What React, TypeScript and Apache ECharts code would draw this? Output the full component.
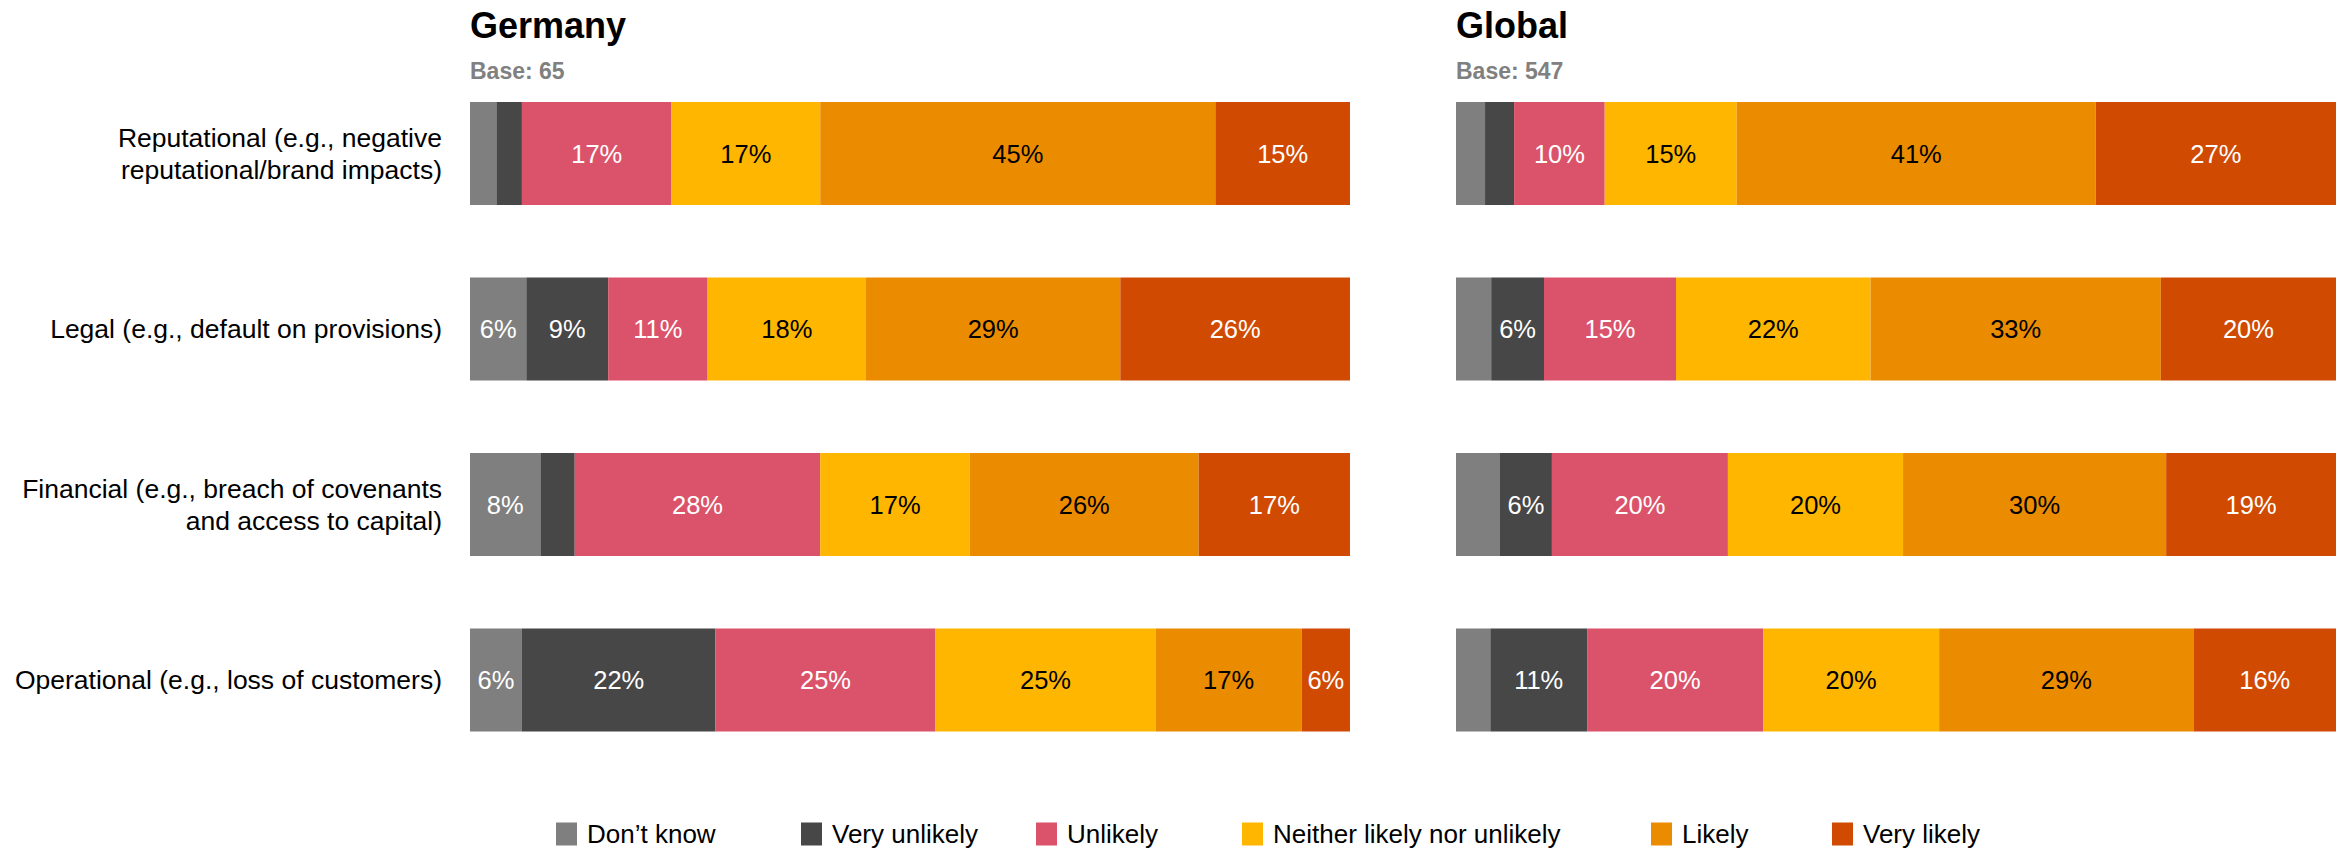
import React, { useEffect, useRef } from "react";
import * as echarts from "echarts";

const categories = [
  "Reputational (e.g., negative\nreputational/brand impacts)",
  "Legal (e.g., default on provisions)",
  "Financial (e.g., breach of covenants\nand access to capital)",
  "Operational (e.g., loss of customers)",
];

const responses = [
  "Don\u2019t know",
  "Very unlikely",
  "Unlikely",
  "Neither likely nor unlikely",
  "Likely",
  "Very likely",
];

const colors = ["#7f7f7f", "#474747", "#db536a", "#ffb600", "#eb8c00", "#d04a02"];
const labelColors = ["#ffffff", "#ffffff", "#ffffff", "#000000", "#000000", "#ffffff"];

// Germany (Base: 65)
const deDontKnow = [3.0, 6.4, 8.0, 5.9];
const deVeryUnlikely = [2.9, 9.3, 3.9, 22.0];
const deUnlikely = [17.0, 11.3, 27.9, 25.0];
const deNeither = [16.9, 18.0, 17.0, 25.0];
const deLikely = [44.9, 28.9, 26.0, 16.6];
const deVeryLikely = [15.3, 26.1, 17.2, 5.5];

// Global (Base: 547)
const glDontKnow = [3.3, 4.0, 5.0, 3.9];
const glVeryUnlikely = [3.3, 6.0, 5.9, 11.0];
const glUnlikely = [10.3, 15.0, 20.0, 20.0];
const glNeither = [15.0, 22.1, 19.9, 20.0];
const glLikely = [40.8, 33.0, 29.9, 28.9];
const glVeryLikely = [27.3, 19.9, 19.3, 16.2];

const panels = [
  { title: "Germany", base: "Base: 65", data: [deDontKnow, deVeryUnlikely, deUnlikely, deNeither, deLikely, deVeryLikely] },
  { title: "Global", base: "Base: 547", data: [glDontKnow, glVeryUnlikely, glUnlikely, glNeither, glLikely, glVeryLikely] },
];

const legendLefts = [556, 801, 1036, 1242, 1651, 1832];

const FONT = "'Liberation Sans', Arial, Helvetica, sans-serif";

export default function App() {
  const ref = useRef<HTMLDivElement>(null);

  useEffect(() => {
    if (!ref.current) return;
    const chart = echarts.init(ref.current, undefined, { renderer: "svg" });

    const gridLefts = [470, 1456];
    const grids = gridLefts.map((left) => ({
      left,
      width: 880,
      top: 65.75,
      height: 702,
      containLabel: false,
    }));

    const xAxes = gridLefts.map((_, i) => ({
      type: "value",
      gridIndex: i,
      min: 0,
      max: 100,
      show: false,
    }));

    const yAxes = gridLefts.map((_, i) => ({
      type: "category",
      gridIndex: i,
      data: categories,
      inverse: true,
      axisLine: { show: false },
      axisTick: { show: false },
      splitLine: { show: false },
      axisLabel: {
        show: i === 0,
        color: "#000",
        fontSize: 26.5,
        lineHeight: 32,
        fontFamily: FONT,
        align: "right",
        margin: 28,
      },
    }));

    const series: any[] = [];
    panels.forEach((p, pi) => {
      p.data.forEach((vals, si) => {
        series.push({
          type: "bar",
          name: responses[si],
          xAxisIndex: pi,
          yAxisIndex: pi,
          stack: "panel" + pi,
          barWidth: 103,
          data: vals,
          itemStyle: { color: colors[si] },
          label: {
            show: true,
            position: "inside",
            color: labelColors[si],
            fontSize: 25.5,
            fontFamily: FONT,
            formatter: (d: any) => (d.value >= 5.5 ? Math.round(d.value) + "%" : ""),
          },
          emphasis: { disabled: true },
        });
      });
    });

    const legends = responses.map((name, i) => ({
      data: [name],
      left: legendLefts[i],
      top: 821,
      itemWidth: 21,
      itemHeight: 23,
      icon: "rect",
      selectedMode: false,
      padding: 0,
      textStyle: { fontSize: 26, lineHeight: 24, color: "#000", fontFamily: FONT, padding: [0, 0, 0, 5] },
    }));

    const graphics: any[] = [];
    panels.forEach((p, pi) => {
      graphics.push({
        type: "text",
        x: gridLefts[pi],
        y: 25,
        style: { text: p.title, fill: "#000", font: `bold 36px ${FONT}`, verticalAlign: "middle", align: "left" },
      });
      graphics.push({
        type: "text",
        x: gridLefts[pi],
        y: 71,
        style: { text: p.base, fill: "#808080", font: `bold 23px ${FONT}`, verticalAlign: "middle", align: "left" },
      });
    });

    chart.setOption({
      animation: false,
      textStyle: { fontFamily: FONT },
      grid: grids,
      xAxis: xAxes,
      yAxis: yAxes,
      series,
      legend: legends,
      graphic: graphics,
    });

    return () => chart.dispose();
  }, []);

  return (
    <div
      ref={ref}
      style={{ position: "fixed", left: 0, top: 0, width: 2343, height: 850, background: "#fff" }}
    />
  );
}
